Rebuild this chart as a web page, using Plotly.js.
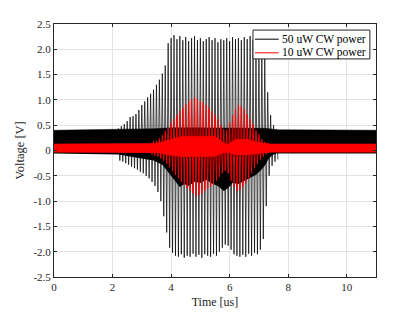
<!DOCTYPE html>
<html>
<head>
<meta charset="utf-8">
<script src="https://cdn.plot.ly/plotly-3.0.1.min.js"></script>
<style>html,body{margin:0;padding:0;background:#fff;}#chart{width:415px;height:315px;}</style>
</head>
<body>
<div id="chart"></div>
<script>
// ---- data ----
const seriesNames = ['50 uW CW power', '10 uW CW power'];
const yTickVals = [-2.5, -2, -1.5, -1, -0.5, 0, 0.5, 1, 1.5, 2, 2.5];
const yTickText = ['-2.5', '-2.0', '-1.5', '-1.0', '-0.5', '0', '0.5', '1.0', '1.5', '2.0', '2.5'];
const xTickVals = [0, 2, 4, 6, 8, 10];

// dense (solid) band of the 50 uW trace
const blkBandT   = [0, 2.2, 2.8, 3.4, 3.7, 3.9, 4.1, 4.3, 4.45, 4.6, 4.8, 5.0, 5.2, 5.4, 5.6, 5.8, 5.95, 6.1, 6.3, 6.5, 6.7, 6.9, 7.05, 7.2, 7.35, 7.5, 7.6, 11];
const blkBandTop = [0.40, 0.41, 0.42, 0.43, 0.44, 0.45, 0.45, 0.45, 0.45, 0.45, 0.45, 0.45, 0.45, 0.45, 0.45, 0.45, 0.45, 0.45, 0.45, 0.45, 0.45, 0.45, 0.45, 0.44, 0.43, 0.42, 0.41, 0.40];
const blkBandBot = [-0.06, -0.08, -0.14, -0.2, -0.28, -0.42, -0.58, -0.72, -0.66, -0.7, -0.62, -0.64, -0.58, -0.65, -0.7, -0.8, -0.74, -0.64, -0.66, -0.6, -0.55, -0.48, -0.4, -0.3, -0.15, -0.08, -0.06, -0.06];

// oscillation peaks of the 50 uW trace (peaks from 2.2 us, troughs from 2.25 us, every 0.1 us)
const blkStart = 2.2;
const blkPeaks = [0.44, 0.48, 0.52, 0.58, 0.66, 0.68, 0.72, 0.8, 0.9, 0.97,
  1.05, 1.12, 1.2, 1.3, 1.4, 1.52, 1.68, 2.12, 2.22, 2.28,
  2.2, 2.26, 2.18, 2.24, 2.16, 2.22, 2.26, 2.18, 2.22, 2.16,
  2.2, 2.24, 2.18, 2.22, 2.14, 2.2, 2.18, 2.22, 2.16, 2.24,
  2.2, 2.22, 2.18, 2.24, 2.2, 2.26, 2.18, 2.22, 2.2, 2.12,
  1.85, 1.15, 0.7, 0.5, 0.42];
const blkTroughs = [-0.2, -0.22, -0.25, -0.28, -0.32, -0.35, -0.38, -0.42, -0.45, -0.5,
  -0.55, -0.62, -0.7, -0.82, -1.0, -1.3, -1.62, -1.92, -2.02, -2.08,
  -2.1, -2.05, -2.12, -2.08, -2.1, -2.04, -2.1, -2.06, -2.12, -2.05,
  -2.08, -2.1, -2.04, -2.08, -2.0, -1.92, -1.86, -1.88, -1.96, -2.05,
  -2.08, -2.1, -2.06, -2.1, -2.04, -2.08, -2.02, -2.05, -1.96, -1.75,
  -1.1, -0.5, -0.3, -0.22, -0.18];

// dense band of the 10 uW trace
const redBandT   = [0, 3.5, 4.0, 4.4, 5.5, 5.8, 5.95, 6.2, 6.6, 7.0, 7.4, 11];
const redBandTop = [0.13, 0.14, 0.22, 0.28, 0.28, 0.15, 0.12, 0.22, 0.22, 0.16, 0.13, 0.13];
const redBandBot = [-0.04, -0.05, -0.1, -0.13, -0.12, -0.05, -0.04, -0.09, -0.09, -0.06, -0.04, -0.04];

// oscillation peaks of the 10 uW trace (peaks from 3.3 us, troughs from 3.35 us, every 0.1 us)
const redStart = 3.3;
const redPeaks = [0.15, 0.18, 0.2, 0.24, 0.3, 0.38, 0.45, 0.55, 0.62, 0.7,
  0.78, 0.85, 0.92, 0.97, 1.02, 1.05, 1.02, 0.98, 0.95, 0.9,
  0.85, 0.78, 0.7, 0.62, 0.5, 0.42, 0.4, 0.55, 0.7, 0.82,
  0.9, 0.88, 0.82, 0.72, 0.62, 0.52, 0.4, 0.32, 0.22, 0.17, 0.14];
const redTroughs = [-0.08, -0.1, -0.12, -0.16, -0.2, -0.26, -0.33, -0.4, -0.48, -0.55,
  -0.62, -0.68, -0.74, -0.8, -0.85, -0.9, -0.88, -0.85, -0.8, -0.75,
  -0.72, -0.68, -0.6, -0.52, -0.45, -0.4, -0.45, -0.6, -0.72, -0.8,
  -0.78, -0.72, -0.65, -0.55, -0.45, -0.35, -0.26, -0.18, -0.12, -0.08, -0.05];

// ---- build traces ----
function zigzag(start, peaks, troughs) {
  const x = [], y = [];
  for (let i = 0; i < peaks.length; i++) {
    x.push(+(start + i * 0.1).toFixed(3)); y.push(peaks[i]);
    if (i < troughs.length) { x.push(+(start + i * 0.1 + 0.05).toFixed(3)); y.push(troughs[i]); }
  }
  return {x, y};
}
const bz = zigzag(blkStart, blkPeaks, blkTroughs);
const rz = zigzag(redStart, redPeaks, redTroughs);

const traces = [
  {x: blkBandT, y: blkBandBot, type: 'scatter', mode: 'lines', line: {width: 0, color: '#000'}, showlegend: false, hoverinfo: 'skip'},
  {x: blkBandT, y: blkBandTop, type: 'scatter', mode: 'lines', fill: 'tonexty', fillcolor: '#000000', line: {width: 0.5, color: '#000'}, showlegend: false, hoverinfo: 'skip'},
  {x: bz.x, y: bz.y, type: 'scatter', mode: 'lines', name: seriesNames[0], line: {width: 0.7, color: '#000000'}},
  {x: redBandT, y: redBandBot, type: 'scatter', mode: 'lines', line: {width: 0, color: '#f00'}, showlegend: false, hoverinfo: 'skip'},
  {x: redBandT, y: redBandTop, type: 'scatter', mode: 'lines', fill: 'tonexty', fillcolor: '#ff0000', line: {width: 0.5, color: '#f00'}, showlegend: false, hoverinfo: 'skip'},
  {x: rz.x, y: rz.y, type: 'scatter', mode: 'lines', name: seriesNames[1], line: {width: 0.9, color: '#ff0000'}}
];

const fam = '"Liberation Serif", "DejaVu Serif", serif';
const font = {family: fam, size: 11, color: '#262626'};
const axisCommon = {
  showline: true, linecolor: '#262626', linewidth: 1, mirror: 'ticks',
  ticks: 'inside', ticklen: 3, tickcolor: '#262626', tickwidth: 1,
  showgrid: true, gridcolor: '#e4e4e4', gridwidth: 1, zeroline: false,
  tickfont: font
};

// legend box drawn in paper coordinates (inside top-right of the axes)
const legX0 = 0.618, legX1 = 0.981, legY0 = 0.862, legY1 = 0.976;
const legLineX0 = 0.624, legLineX1 = 0.698, legTextX = 0.702;
const legRowY = [0.940, 0.886];
const legColors = ['#000000', '#ff0000'];
const shapes = [{type: 'rect', xref: 'paper', yref: 'paper', x0: legX0, x1: legX1, y0: legY0, y1: legY1,
  line: {color: '#262626', width: 1}, fillcolor: '#ffffff', layer: 'above'}];
const annotations = [];
seriesNames.forEach((n, i) => {
  shapes.push({type: 'line', xref: 'paper', yref: 'paper', x0: legLineX0, x1: legLineX1, y0: legRowY[i], y1: legRowY[i],
    line: {color: legColors[i], width: 1}, layer: 'above'});
  annotations.push({xref: 'paper', yref: 'paper', x: legTextX, y: legRowY[i], xanchor: 'left', yanchor: 'middle',
    text: n, showarrow: false, font: {family: fam, size: 11.5, color: '#000'}});
});

const layout = {
  width: 415, height: 315,
  margin: {l: 54, r: 39, t: 24, b: 38},
  paper_bgcolor: '#fff', plot_bgcolor: '#fff',
  font: font,
  showlegend: false,
  shapes: shapes,
  annotations: annotations,
  xaxis: Object.assign({}, axisCommon, {range: [0, 11], tickvals: xTickVals, ticktext: xTickVals.map(String),
    title: {text: 'Time [us]', font: {family: fam, size: 12, color: '#262626'}, standoff: 5}}),
  yaxis: Object.assign({}, axisCommon, {range: [-2.5, 2.5], tickvals: yTickVals, ticktext: yTickText,
    title: {text: 'Voltage [V]', font: {family: fam, size: 12.5, color: '#262626'}, standoff: 6}})
};
Plotly.newPlot('chart', traces, layout, {staticPlot: true, displayModeBar: false});
</script>
</body>
</html>
